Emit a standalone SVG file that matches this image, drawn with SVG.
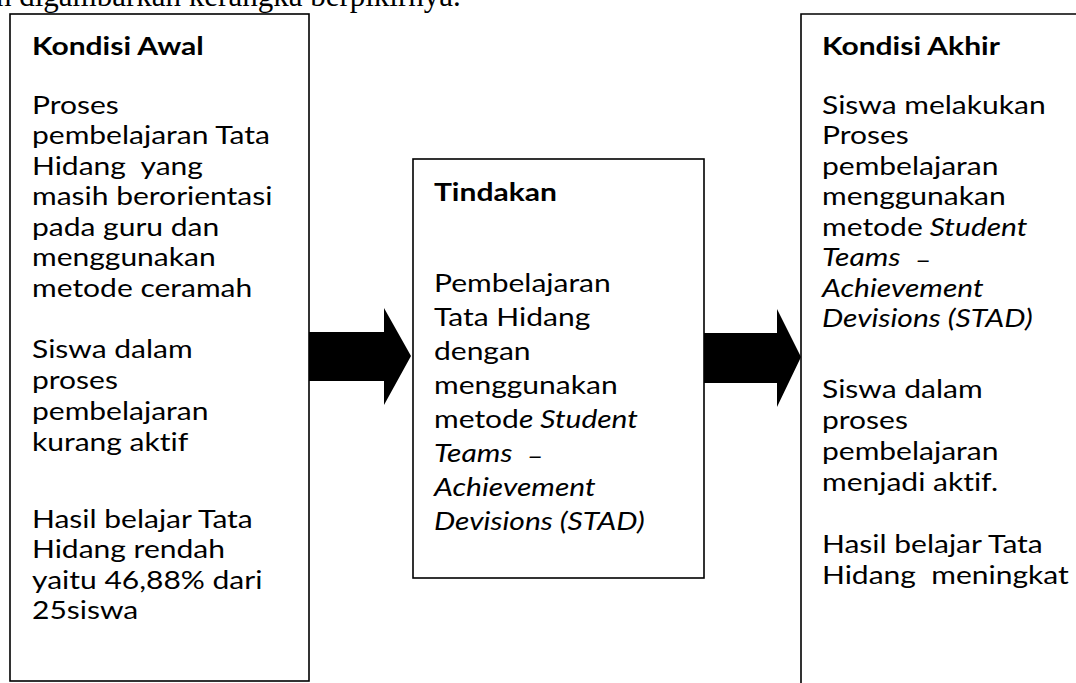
<svg xmlns="http://www.w3.org/2000/svg" width="1076" height="683" viewBox="0 0 1076 683">
<style>
.box{fill:#fff;stroke:#000;stroke-width:1.6}
.t{font-family:Lato,"Open Sans",sans-serif;font-size:25px;fill:#000;white-space:pre;font-variant-ligatures:none;font-feature-settings:"liga" 0,"clig" 0}
.b{font-weight:bold}
.i{font-style:italic}
.top{font-family:"Liberation Serif",serif;font-size:31px;fill:#000}
.arrow{fill:#000}
</style>
<rect width="1076" height="683" fill="#fff"/>
<text class="top" x="-4" y="6">n digambarkan kerangka berpikirnya.</text>
<g id="kondisi-awal">
<rect class="box" x="10" y="14" width="299" height="667"/>
<g transform="matrix(1.2,0,0,1,-6.4,0)">
<text class="t b" x="32" y="55">Kondisi Awal</text>
<text class="t" x="32" y="114">Proses</text>
<text class="t" x="32" y="144.5">pembelajaran Tata</text>
<text class="t" x="32" y="175">Hidang  yang</text>
<text class="t" x="32" y="205.5">masih berorientasi</text>
<text class="t" x="32" y="236">pada guru dan</text>
<text class="t" x="32" y="266.5">menggunakan</text>
<text class="t" x="32" y="297">metode ceramah</text>
<text class="t" x="32" y="358">Siswa dalam</text>
<text class="t" x="32" y="389">proses</text>
<text class="t" x="32" y="420">pembelajaran</text>
<text class="t" x="32" y="451">kurang aktif</text>
<text class="t" x="32" y="528">Hasil belajar Tata</text>
<text class="t" x="32" y="558.5">Hidang rendah</text>
<text class="t" x="32" y="589">yaitu 46,88% dari</text>
<text class="t" x="32" y="619.5">25siswa</text>
</g>
</g>
<g id="tindakan">
<rect class="box" x="413" y="159" width="291" height="419"/>
<g transform="matrix(1.2,0,0,1,-86.8,0)">
<text class="t b" x="434" y="201">Tindakan</text>
<text class="t" x="434" y="292">Pembelajaran</text>
<text class="t" x="434" y="326">Tata Hidang</text>
<text class="t" x="434" y="360">dengan</text>
<text class="t" x="434" y="394">menggunakan</text>
<text class="t" x="434" y="428">metod<tspan class="i">e Student</tspan></text>
<text class="t i" x="434" y="462">Teams  <tspan dy="3">–</tspan></text>
<text class="t i" x="434" y="496">Achievement</text>
<text class="t i" x="434" y="530">Devisions (STAD)</text>
</g>
</g>
<g id="kondisi-akhir">
<path class="box" d="M1076,14 H801 V683" fill="none"/>
<g transform="matrix(1.2,0,0,1,-164.4,0)">
<text class="t b" x="822" y="55">Kondisi Akhir</text>
<text class="t" x="822" y="114">Siswa melakukan</text>
<text class="t" x="822" y="144.5">Proses</text>
<text class="t" x="822" y="175">pembelajaran</text>
<text class="t" x="822" y="205.5">menggunakan</text>
<text class="t" x="822" y="236">metode<tspan class="i"> Student</tspan></text>
<text class="t i" x="822" y="266.5">Teams  <tspan dy="3">–</tspan></text>
<text class="t i" x="822" y="297">Achievement</text>
<text class="t i" x="822" y="327.5">Devisions (STAD)</text>
<text class="t" x="822" y="398">Siswa dalam</text>
<text class="t" x="822" y="429">proses</text>
<text class="t" x="822" y="460">pembelajaran</text>
<text class="t" x="822" y="491">menjadi aktif.</text>
<text class="t" x="822" y="553">Hasil belajar Tata</text>
<text class="t" x="822" y="584">Hidang  meningkat</text>
</g>
</g>
<g id="connectors">
<polygon class="arrow" points="309,332 384,332 384,308 411,356 384,405 384,381 309,381"/>
<polygon class="arrow" points="704,333 777,333 777,309 801,357 777,407 777,383 704,383"/>
</g>
</svg>
